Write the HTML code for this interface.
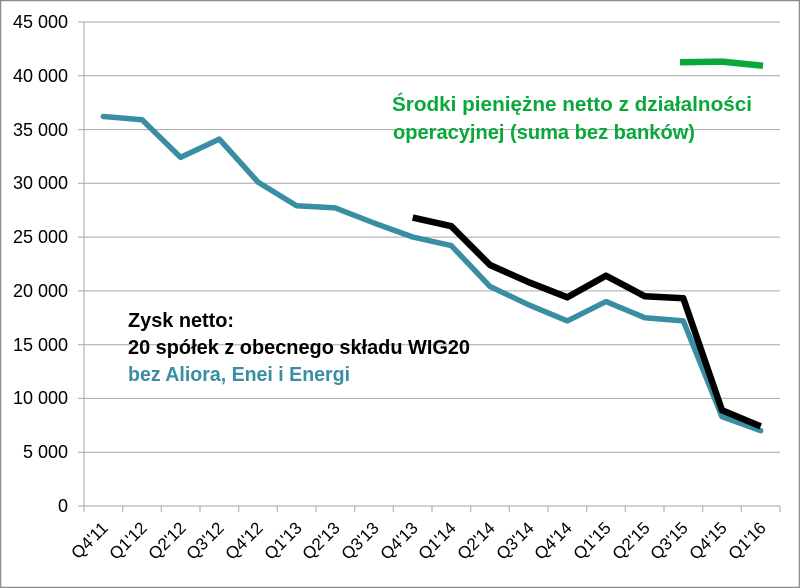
<!DOCTYPE html>
<html><head><meta charset="utf-8"><style>
html,body{margin:0;padding:0;background:#fff}
svg{display:block}
text{font-family:"Liberation Sans",sans-serif}
</style></head><body>
<svg width="800" height="588" viewBox="0 0 800 588" xmlns="http://www.w3.org/2000/svg">
<rect x="0.5" y="0.5" width="799" height="587" fill="#fff" stroke="#8c8c8c" stroke-width="1.5"/>
<g stroke="#a6a6a6" stroke-width="1">
<line x1="78" y1="22" x2="780" y2="22"/>
<line x1="78" y1="75.8" x2="780" y2="75.8"/>
<line x1="78" y1="129.6" x2="780" y2="129.6"/>
<line x1="78" y1="183.3" x2="780" y2="183.3"/>
<line x1="78" y1="237.1" x2="780" y2="237.1"/>
<line x1="78" y1="290.9" x2="780" y2="290.9"/>
<line x1="78" y1="344.7" x2="780" y2="344.7"/>
<line x1="78" y1="398.4" x2="780" y2="398.4"/>
<line x1="78" y1="452.2" x2="780" y2="452.2"/>
<line x1="78" y1="506" x2="780" y2="506"/>
<line x1="84" y1="22" x2="84" y2="506"/>
</g>
<g font-size="18" fill="#000" text-anchor="end">
<text x="68" y="28">45 000</text>
<text x="68" y="82">40 000</text>
<text x="68" y="136">35 000</text>
<text x="68" y="189">30 000</text>
<text x="68" y="243">25 000</text>
<text x="68" y="297">20 000</text>
<text x="68" y="351">15 000</text>
<text x="68" y="404">10 000</text>
<text x="68" y="458">5 000</text>
<text x="68" y="512">0</text>
</g>
<g font-size="17" fill="#000" text-anchor="end">
<text transform="translate(109,529) rotate(-45)">Q4'11</text>
<text transform="translate(148,529) rotate(-45)">Q1'12</text>
<text transform="translate(187,529) rotate(-45)">Q2'12</text>
<text transform="translate(225,529) rotate(-45)">Q3'12</text>
<text transform="translate(264,529) rotate(-45)">Q4'12</text>
<text transform="translate(303,529) rotate(-45)">Q1'13</text>
<text transform="translate(341,529) rotate(-45)">Q2'13</text>
<text transform="translate(380,529) rotate(-45)">Q3'13</text>
<text transform="translate(419,529) rotate(-45)">Q4'13</text>
<text transform="translate(457,529) rotate(-45)">Q1'14</text>
<text transform="translate(496,529) rotate(-45)">Q2'14</text>
<text transform="translate(535,529) rotate(-45)">Q3'14</text>
<text transform="translate(573,529) rotate(-45)">Q4'14</text>
<text transform="translate(612,529) rotate(-45)">Q1'15</text>
<text transform="translate(651,529) rotate(-45)">Q2'15</text>
<text transform="translate(689,529) rotate(-45)">Q3'15</text>
<text transform="translate(728,529) rotate(-45)">Q4'15</text>
<text transform="translate(767,529) rotate(-45)">Q1'16</text>
</g>
<g stroke="#a6a6a6">
<path d="M84 506v6M122.7 506v6M161.3 506v6M200 506v6M238.7 506v6M277.3 506v6M316 506v6M354.7 506v6M393.3 506v6M432 506v6M470.7 506v6M509.3 506v6M548 506v6M586.7 506v6M625.3 506v6M664 506v6M702.7 506v6M741.3 506v6M780 506v6"/>
</g>
<polyline fill="none" stroke="#3a8ea3" stroke-width="5.5" stroke-linejoin="round" stroke-linecap="round" points="103.3,116.5 142,119.7 180.6,157.4 219.3,139.1 258,182.1 296.7,205.8 335.3,207.9 374,223 412.7,237 451.3,245.6 490,286.5 528.7,304.8 567.3,320.9 606,301.6 644.7,317.7 683.3,320.9 722,416.7 760.7,430.7"/>
<polyline fill="none" stroke="#000" stroke-width="6.5" stroke-linejoin="round" points="412.7,217.6 451.3,226.2 490,265 528.7,282.2 567.3,297.3 606,275.7 644.7,296.2 683.3,298.3 722,410.2 760.7,426.4"/>
<polyline fill="none" stroke="#0aa83a" stroke-width="6.5" stroke-linejoin="round" points="680,62.3 722,61.6 763,65.8"/>
<g font-size="20" font-weight="bold">
<text x="392" y="111" fill="#0aa83a" textLength="360" lengthAdjust="spacingAndGlyphs">Środki pieniężne netto z działalności</text>
<text x="393" y="139" fill="#0aa83a" textLength="302" lengthAdjust="spacingAndGlyphs">operacyjnej (suma bez banków)</text>
<text x="128" y="327" fill="#000" textLength="106" lengthAdjust="spacingAndGlyphs">Zysk netto:</text>
<text x="128" y="354" fill="#000" textLength="342" lengthAdjust="spacingAndGlyphs">20 spółek z obecnego składu WIG20</text>
<text x="128" y="381" fill="#3a8ea3" textLength="222" lengthAdjust="spacingAndGlyphs">bez Aliora, Enei i Energi</text>
</g>
</svg>
</body></html>
